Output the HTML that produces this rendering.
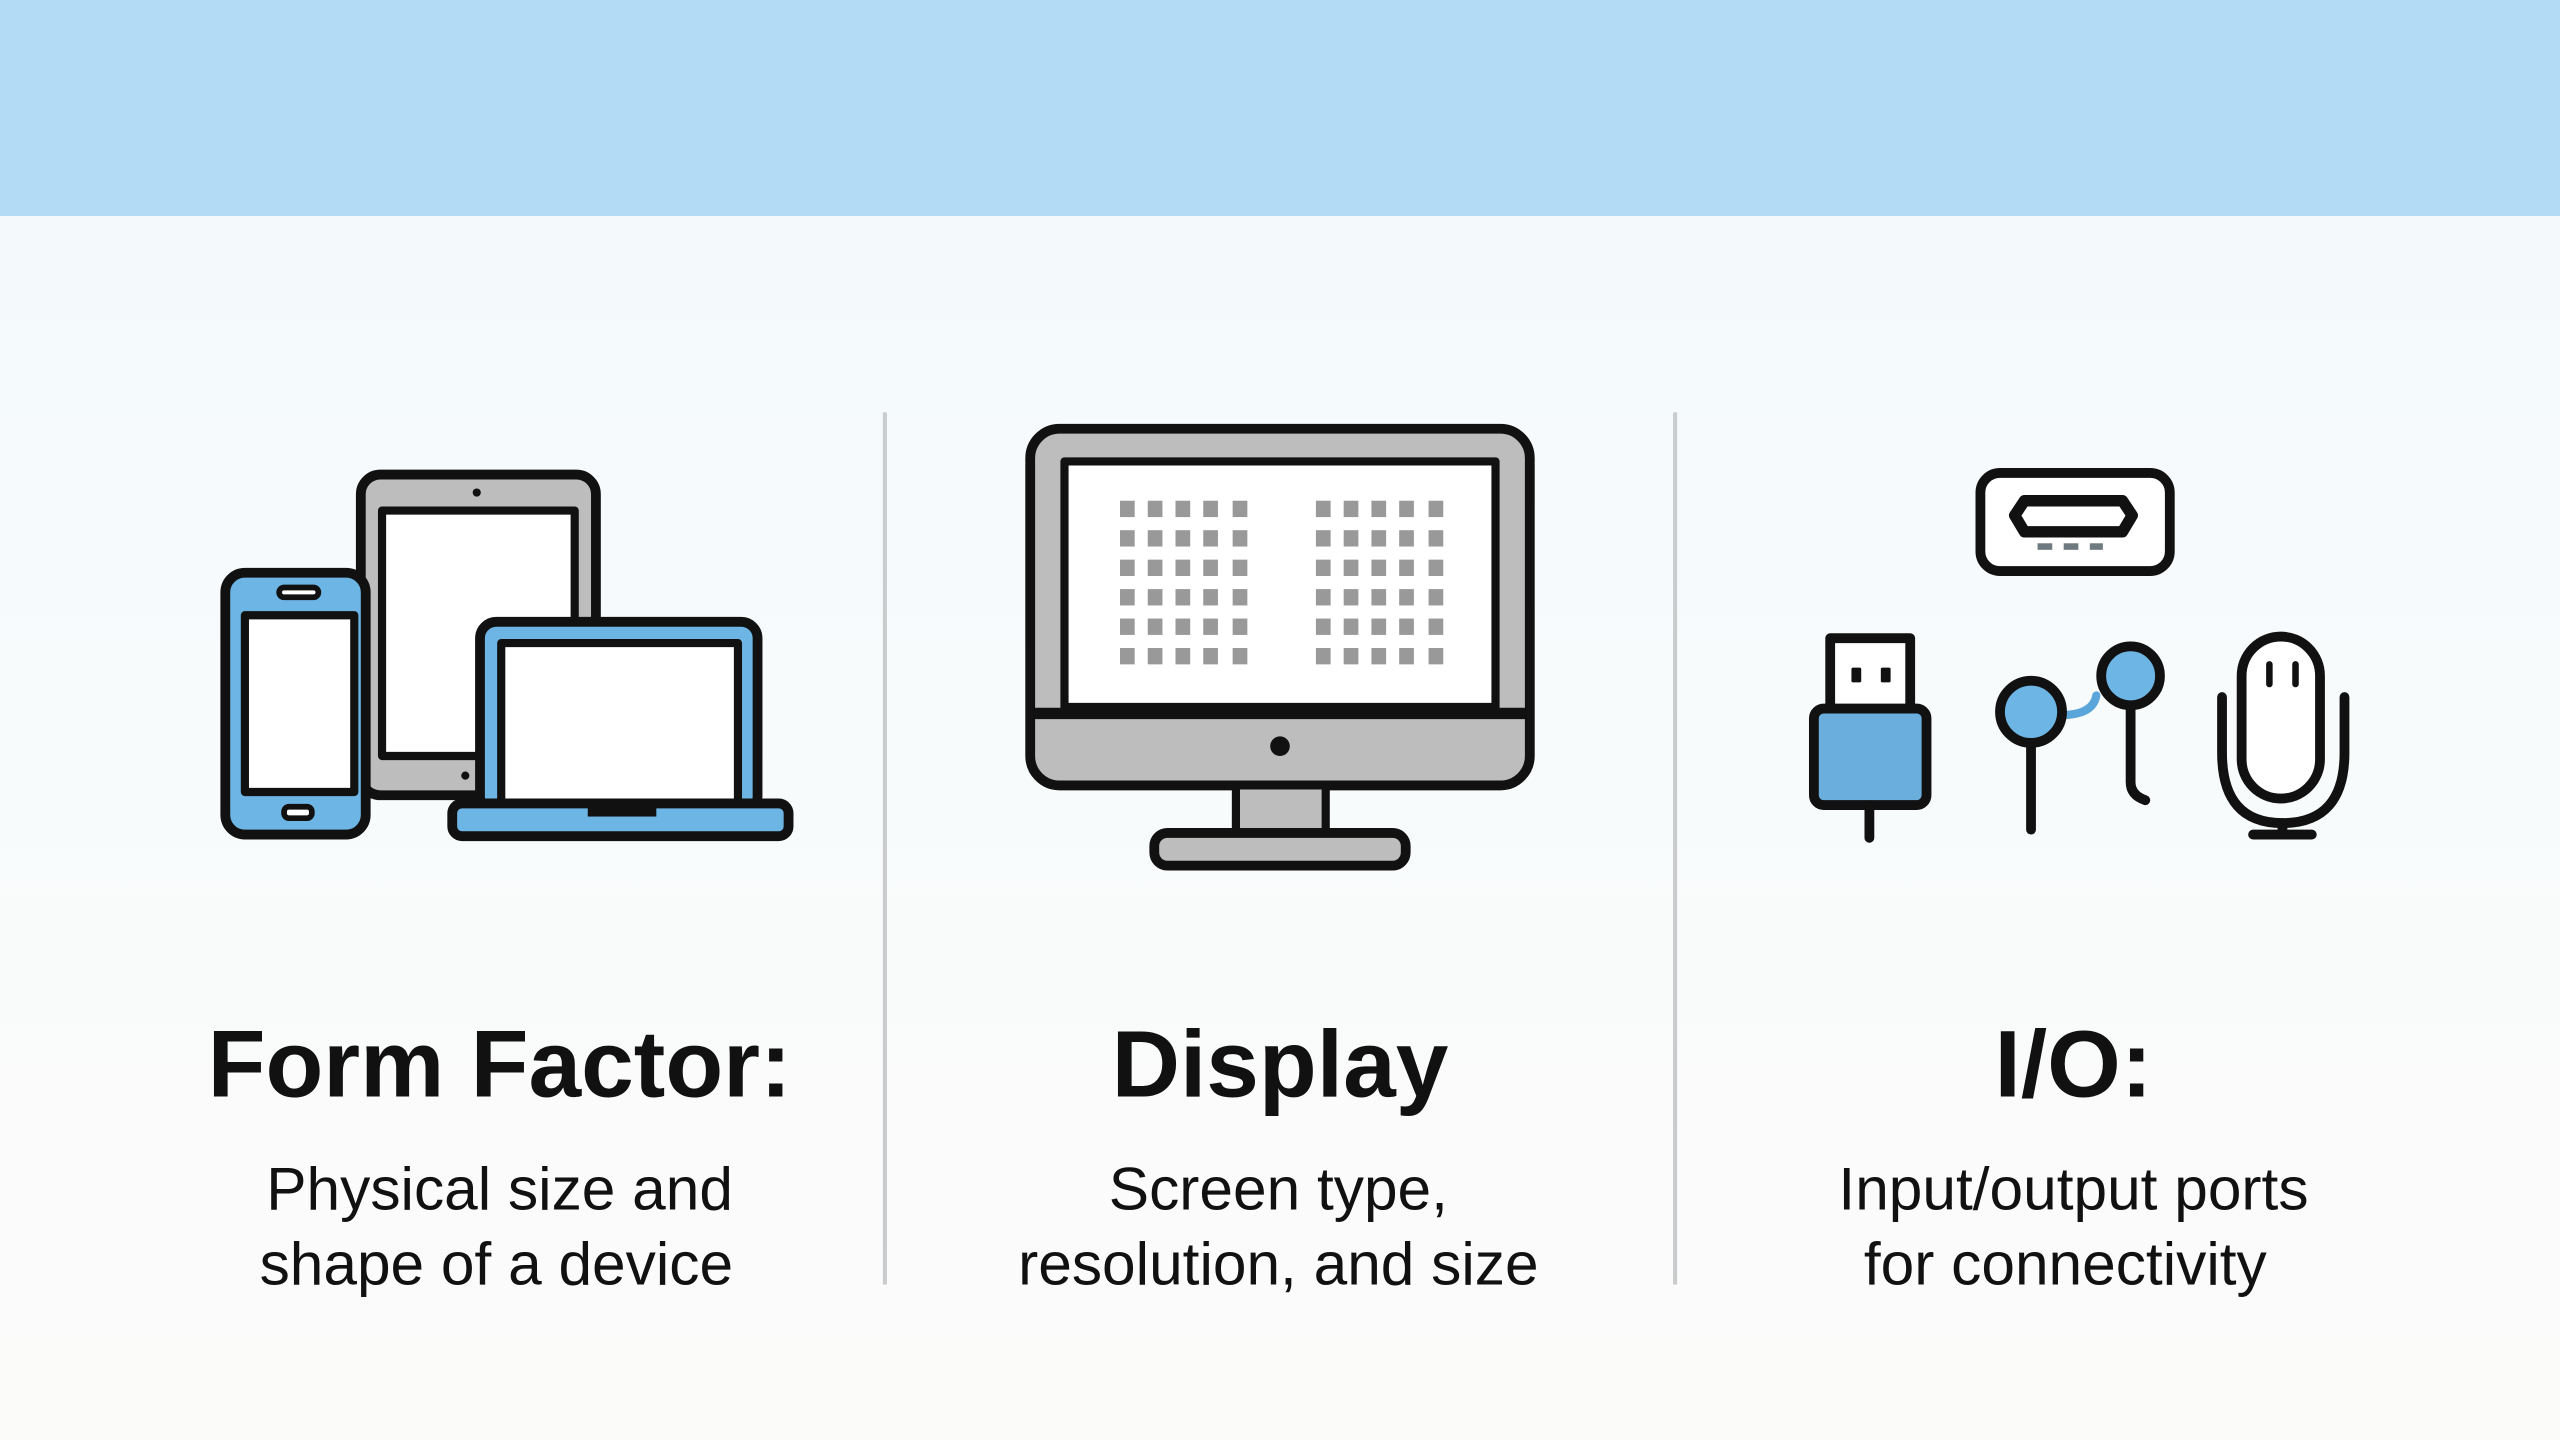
<!DOCTYPE html>
<html><head><meta charset="utf-8"><style>
html,body{margin:0;padding:0;width:2560px;height:1440px;overflow:hidden;background:#fbfcfc}
svg{display:block}
</style></head><body>
<svg width="2560" height="1440" viewBox="0 0 1568 880" preserveAspectRatio="none" xmlns="http://www.w3.org/2000/svg">
<defs>
<linearGradient id="bg" x1="0" y1="0" x2="0" y2="1">
<stop offset="0" stop-color="#f2f8fb"/><stop offset="0.5" stop-color="#f8fbfc"/><stop offset="1" stop-color="#fbfbf9"/>
</linearGradient>
</defs>
<rect x="0" y="0" width="1568" height="880" fill="url(#bg)"/>
<rect x="0" y="0" width="1568" height="132" fill="#b4dbf5"/>
<line x1="542" y1="252" x2="542" y2="785" stroke="#c9cbcc" stroke-width="2.5"/>
<line x1="1026" y1="252" x2="1026" y2="785" stroke="#c9cbcc" stroke-width="2.5"/>

<g stroke="#111" stroke-width="6" stroke-linejoin="round" stroke-linecap="round">
<!-- tablet -->
<rect x="221" y="290" width="144" height="196" rx="12" fill="#bdbdbd"/>
<rect x="234" y="312" width="118" height="150" fill="#fff" stroke-width="5"/>
<circle cx="292" cy="301" r="2.5" fill="#111" stroke="none"/>
<!-- phone -->
<rect x="138" y="350" width="86" height="160" rx="12" fill="#6db5e4"/>
<rect x="150" y="376" width="67" height="108" fill="#fff" stroke-width="5"/>
<rect x="171" y="359" width="24" height="6" rx="3" fill="#fff" stroke-width="3.5"/>
<rect x="174" y="493" width="17" height="7" rx="3" fill="#fff" stroke-width="3.5"/>
<!-- laptop -->
<rect x="294" y="380" width="170" height="117" rx="10" fill="#6db5e4"/>
<rect x="307" y="393" width="145" height="100" fill="#fff" stroke-width="5"/>
<rect x="277" y="491" width="206" height="20" rx="6" fill="#6db5e4"/>
<rect x="360" y="492" width="42" height="7" fill="#111" stroke="none"/>
<!-- monitor -->
<rect x="631" y="262" width="306" height="218" rx="18" fill="#bdbdbd"/>
<rect x="652" y="282" width="264" height="150" fill="#fff" stroke-width="5"/>
<line x1="633" y1="436" x2="935" y2="436" stroke-width="7" stroke-linecap="butt"/>
<rect x="757" y="480" width="55" height="30" fill="#bdbdbd" stroke-width="5"/>
<rect x="707" y="509" width="154" height="20" rx="8" fill="#bdbdbd"/>
<!-- port -->
<rect x="1213" y="289" width="116" height="60" rx="12" fill="#fff"/>
<path d="M1240 306 L1300 306 L1306 315 L1300 325 L1240 325 L1234 315 Z" fill="#fff" stroke-width="7"/>
<!-- usb -->
<rect x="1121" y="390" width="49" height="44" fill="#fff"/>
<rect x="1111" y="433" width="69" height="59" rx="6" fill="#6aaede"/>
<line x1="1145" y1="492" x2="1145" y2="512"/>
<!-- earbuds -->
<path d="M1262 437 Q1282 437 1284 425" fill="none" stroke="#5aa6da" stroke-width="5"/>
<line x1="1244" y1="455" x2="1244" y2="507"/>
<circle cx="1244" cy="435" r="19" fill="#6db5e4"/>
<path d="M1305 430 L1305 478 Q1305 486 1314 489" fill="none"/>
<circle cx="1305" cy="413" r="18" fill="#6db5e4"/>
<!-- mic -->
<rect x="1373" y="389" width="48" height="99" rx="24" fill="#fff"/>
<path d="M1361 426 L1361 460 Q1361 503 1398 503 Q1436 503 1436 460 L1436 426" fill="none"/>
<line x1="1398" y1="503" x2="1398" y2="510"/>
<line x1="1380" y1="510" x2="1416" y2="510"/>
<line x1="1390" y1="406" x2="1390" y2="418" stroke-width="4"/>
<line x1="1406" y1="406" x2="1406" y2="418" stroke-width="4"/>
</g>
<circle cx="784" cy="456" r="6" fill="#111"/>
<circle cx="285" cy="474" r="2.5" fill="#111"/>
<rect x="1134" y="408" width="6" height="9" rx="1" fill="#111"/>
<rect x="1152" y="408" width="6" height="9" rx="1" fill="#111"/>
<g fill="#6f7a80"><rect x="1248" y="332" width="9" height="4"/><rect x="1264" y="332" width="9" height="4"/><rect x="1280" y="332" width="8" height="4"/></g>
<g fill="#999" id="grid">
<g id="gl">
<rect x="686" y="306" width="9" height="10"/><rect x="703" y="306" width="9" height="10"/><rect x="720" y="306" width="9" height="10"/><rect x="737" y="306" width="9" height="10"/><rect x="755" y="306" width="9" height="10"/>
</g>
<use href="#gl" y="18"/><use href="#gl" y="36"/><use href="#gl" y="54"/><use href="#gl" y="72"/><use href="#gl" y="90"/>
<use href="#gl" x="120"/><use href="#gl" x="120" y="18"/><use href="#gl" x="120" y="36"/><use href="#gl" x="120" y="54"/><use href="#gl" x="120" y="72"/><use href="#gl" x="120" y="90"/>
</g>

<g font-family="Liberation Sans, DejaVu Sans, sans-serif" fill="#111" text-anchor="middle">
<text x="306" y="670" font-size="58" font-weight="bold">Form Factor:</text>
<text x="784" y="670" font-size="58" font-weight="bold">Display</text>
<text x="1270" y="670" font-size="58" font-weight="bold">I/O:</text>
<g font-size="37">
<text x="306" y="739">Physical size and</text>
<text x="304" y="785">shape of a device</text>
<text x="783" y="739">Screen type,</text>
<text x="783" y="785">resolution, and size</text>
<text x="1270" y="739">Input/output ports</text>
<text x="1265" y="785">for connectivity</text>
</g>
</g>
</svg>
</body></html>
